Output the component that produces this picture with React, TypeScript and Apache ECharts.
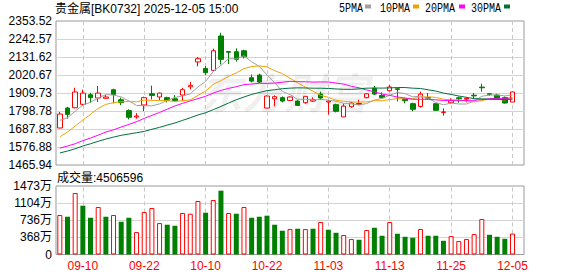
import React, { useEffect, useRef } from 'react';
import * as echarts from 'echarts';

const dates = [
  '09-05', '09-08', '09-09', '09-10', '09-11', '09-12', '09-15', '09-16', '09-17', '09-18',
  '09-19', '09-22', '09-23', '09-24', '09-25', '09-26', '09-29', '09-30', '10-09', '10-10',
  '10-13', '10-14', '10-15', '10-16', '10-17', '10-20', '10-21', '10-22', '10-23', '10-24',
  '10-27', '10-28', '10-29', '10-30', '10-31', '11-03', '11-04', '11-05', '11-06', '11-07',
  '11-10', '11-11', '11-12', '11-13', '11-14', '11-17', '11-18', '11-19', '11-20', '11-21',
  '11-24', '11-25', '11-26', '11-27', '11-28', '12-01', '12-02', '12-03', '12-04', '12-05',
];

const opens = [
  1694, 1817, 1819, 1840, 1899, 1879, 1877, 1930, 1868, 1801,
  1762, 1836, 1905, 1885, 1881, 1874, 1897, 1948, 2101, 2061,
  2049, 2261, 2165, 2164, 2170, 2004, 2020, 1817, 1874, 1881,
  1864, 1860, 1850, 1860, 1903, 1854, 1838, 1762, 1825, 1840,
  1881, 1938, 1895, 1924, 1936, 1872, 1844, 1827, 1882, 1844,
  1790, 1850, 1880, 1872, 1896, 1946, 1905, 1897, 1881, 1854,
];
const closes = [
  1780, 1778, 1916, 1909, 1881, 1909, 1885, 1901, 1850, 1760,
  1768, 1881, 1895, 1909, 1864, 1862, 1930, 1957, 2121, 2035,
  2170, 2117, 2161, 2117, 2133, 1983, 1977, 1891, 1887, 1860,
  1885, 1833, 1889, 1868, 1879, 1860, 1797, 1829, 1848, 1845,
  1905, 1903, 1881, 1947, 1932, 1862, 1809, 1903, 1878, 1803,
  1793, 1862, 1874, 1877, 1892, 1942, 1901, 1877, 1848, 1916,
];
const lows = [
  1692, 1752, 1815, 1831, 1850, 1854, 1875, 1846, 1835, 1747,
  1751, 1798, 1870, 1864, 1852, 1860, 1860, 1932, 2074, 2020,
  2045, 2086, 2088, 2103, 2123, 1975, 1971, 1817, 1827, 1852,
  1860, 1832, 1844, 1854, 1868, 1778, 1790, 1761, 1819, 1835,
  1877, 1897, 1877, 1920, 1858, 1846, 1797, 1819, 1868, 1800,
  1770, 1844, 1850, 1852, 1877, 1918, 1893, 1868, 1844, 1854,
];
const highs = [
  1793, 1825, 1942, 1930, 1911, 1953, 1897, 1936, 1881, 1809,
  1786, 1887, 1955, 1912, 1887, 1897, 1942, 1977, 2131, 2076,
  2183, 2281, 2168, 2185, 2176, 2024, 2029, 1895, 1895, 1889,
  1889, 1866, 1890, 1883, 1918, 1864, 1844, 1844, 1854, 1868,
  1910, 1953, 1914, 1959, 1940, 1881, 1850, 1918, 1910, 1845,
  1815, 1877, 1887, 1885, 1910, 1967, 1910, 1905, 1889, 1916,
];
// volume in 万
const volumes = [
  849, 812, 1322, 1049, 790, 1021, 812, 849, 704, 790,
  482, 913, 999, 676, 640, 618, 892, 877, 1150, 898,
  1172, 1372, 892, 877, 1021, 790, 812, 834, 640, 511,
  547, 554, 547, 554, 698, 532, 467, 418, 332, 317,
  526, 575, 403, 698, 446, 381, 360, 547, 403, 403,
  295, 396, 289, 332, 439, 763, 424, 381, 338, 450.6596,
];

const ma5 = [
  1741, 1757, 1798, 1835, 1852.8, 1878.6, 1900, 1897, 1885.2, 1861,
  1832.8, 1832, 1830.8, 1842.6, 1863.4, 1882.2, 1892, 1904.4, 1946.8, 1981,
  2042.6, 2080, 2120.8, 2120, 2139.6, 2102.2, 2074.2, 2020.2, 1974.2, 1919.6,
  1900, 1871.2, 1870.8, 1867, 1870.8, 1865.8, 1858.6, 1846.6, 1842.6, 1835.8,
  1844.8, 1866, 1876.4, 1896.2, 1913.6, 1905, 1886.2, 1890.6, 1876.8, 1851,
  1837.2, 1847.8, 1842, 1841.8, 1859.6, 1889.4, 1897.2, 1897.8, 1892, 1896.8,
];
const ma10 = [
  1640, 1669, 1706, 1743, 1778, 1815, 1840, 1850, 1856, 1856.9,
  1855.7, 1866, 1863.9, 1863.9, 1862.2, 1857.5, 1862, 1867.6, 1894.7, 1922.2,
  1962.4, 1986, 2012.6, 2033.4, 2060.3, 2072.4, 2077.1, 2070.5, 2047.1, 2029.6,
  2001.1, 1972.7, 1945.5, 1920.6, 1895.2, 1882.9, 1864.9, 1858.7, 1854.8, 1853.3,
  1855.3, 1862.3, 1861.5, 1869.4, 1874.7, 1874.9, 1876.1, 1883.5, 1886.5, 1882.3,
  1871.1, 1867, 1866.3, 1859.3, 1855.3, 1863.3, 1872.5, 1869.9, 1866.9, 1878.2,
];
const ma20 = [
  1570, 1583, 1597, 1616, 1632, 1650, 1669, 1683, 1700, 1716,
  1733, 1753, 1772, 1790, 1810, 1830, 1846, 1861, 1875, 1889.6,
  1909.1, 1926, 1938.3, 1948.7, 1961.3, 1965, 1969.6, 1969, 1970.9, 1975.9,
  1981.8, 1979.4, 1979.1, 1977, 1977.8, 1977.7, 1971, 1964.6, 1951, 1941.5,
  1928.2, 1917.5, 1903.5, 1895, 1885, 1878.9, 1870.5, 1871.1, 1870.7, 1867.8,
  1863.2, 1864.7, 1863.9, 1864.4, 1865, 1869.1, 1874.3, 1876.7, 1876.7, 1880.3,
];
const ma30 = [
  1540, 1552, 1566, 1583, 1597, 1612, 1626, 1638, 1649, 1657,
  1665, 1673, 1686, 1698, 1712, 1725, 1741, 1757, 1774, 1788,
  1807, 1827, 1848, 1868, 1885, 1901, 1913, 1924, 1930, 1936.2,
  1939.7, 1941.6, 1940.7, 1939.3, 1939.2, 1937.6, 1934.7, 1932.3, 1932.2, 1935,
  1939.6, 1940.3, 1939.9, 1941.1, 1943.4, 1943.4, 1939.4, 1937.6, 1929.5, 1921.7,
  1909.2, 1900.7, 1891.1, 1883.1, 1875.1, 1873.7, 1871.2, 1870.7, 1869.4, 1871.3,
];

const tickDates = ['09-10', '09-22', '10-10', '10-22', '11-03', '11-13', '11-25', '12-05'];
const priceMin = 1465.94;
const priceMax = 2353.52;
const volMax = 1473;
const titleText = '贵金属[BK0732] 2025-12-05 15:00';
const maNames = ['5PMA', '10PMA', '20PMA', '30PMA'];
const maSeries = [ma5, ma10, ma20, ma30];

const UP = '#ff0000';
const DOWN = '#008000';
const MA_COLORS = ['#a0a0a0', '#f0a300', '#ff00ff', '#00703c'];
const FONT = '"Liberation Sans", "Noto Sans CJK SC", sans-serif';

export default function App() {
  const ref = useRef<HTMLDivElement>(null);

  useEffect(() => {
    const chart = echarts.init(ref.current!, null, { renderer: 'svg' });
    const cats = [...dates, ''];
    const gridLeft = 56;
    const gridWidth = 468;

    const vLine = {
      silent: true,
      symbol: ['none', 'none'],
      z: 1,
      label: { show: false },
      emphasis: { disabled: true },
      lineStyle: { color: '#c8c8c8', type: [4, 3], width: 1 },
      data: tickDates.map((d) => ({ xAxis: d })),
    };

    const legendTextX = [339, 380, 425, 471];
    const legendRectX = [365, 413, 459, 504];
    const graphic: any[] = [
      {
        type: 'text', x: 200, y: 90, z: 1, silent: true,
        style: { text: '东方财富', font: 'italic bold 42px "Noto Sans CJK SC"', fill: 'rgba(0,0,0,0.07)', verticalAlign: 'middle' },
      },
      {
        type: 'text', x: 55, y: 9,
        style: { text: titleText, font: `12px ${FONT}`, fill: '#000', verticalAlign: 'middle' },
      },
      {
        type: 'text', x: 57, y: 177.5,
        style: { text: `成交量:${Math.round(volumes[volumes.length - 1] * 10000)}`, font: `12px ${FONT}`, fill: '#000', verticalAlign: 'middle' },
      },
    ];
    maNames.forEach((n, i) => {
      graphic.push({
        type: 'text', x: legendTextX[i], y: 9, scaleX: 0.833,
        style: { text: n, font: '12px "Liberation Mono"', fill: '#000', verticalAlign: 'middle' },
      });
      graphic.push({
        type: 'rect', x: legendRectX[i], y: 4.5, shape: { width: 6, height: 4 },
        style: { fill: MA_COLORS[i] },
      });
    });

    const option: any = {
      animation: false,
      backgroundColor: '#fff',
      grid: [
        { left: gridLeft, top: 21, width: gridWidth, height: 144, show: true, borderColor: '#999', borderWidth: 1, backgroundColor: 'transparent' },
        { left: gridLeft, top: 186, width: gridWidth, height: 68.5, show: true, borderColor: '#999', borderWidth: 1, backgroundColor: 'transparent' },
      ],
      xAxis: [
        {
          type: 'category', gridIndex: 0, data: cats, boundaryGap: true,
          axisLine: { show: false }, axisTick: { show: false }, axisLabel: { show: false }, splitLine: { show: false },
        },
        {
          type: 'category', gridIndex: 1, data: cats, boundaryGap: true,
          axisLine: { show: false }, axisTick: { show: false }, splitLine: { show: false },
          axisLabel: {
            interval: (_i: number, v: string) => tickDates.includes(v),
            color: UP, fontSize: 12, fontFamily: FONT, margin: 5,
          },
        },
      ],
      yAxis: [
        {
          type: 'value', gridIndex: 0, min: priceMin, max: priceMax, interval: (priceMax - priceMin) / 8,
          axisLine: { show: false }, axisTick: { show: false },
          axisLabel: {
            color: '#000', fontSize: 12, fontFamily: FONT, margin: 4,
            formatter: (v: number) => (Math.floor(v * 100 + 1e-4) / 100).toFixed(2),
          },
          splitLine: { show: true, showMinLine: false, showMaxLine: false, lineStyle: { color: '#d4d4d4', width: 1 } },
        },
        {
          type: 'value', gridIndex: 1, min: 0, max: volMax, interval: volMax / 4,
          axisLine: { show: false }, axisTick: { show: false },
          axisLabel: {
            color: '#000', fontSize: 12, fontFamily: FONT, margin: 4,
            formatter: (v: number) => (v === 0 ? '0' : `${Math.floor(v + 1e-6)}万`),
          },
          splitLine: { show: true, showMinLine: false, showMaxLine: false, lineStyle: { color: '#d4d4d4', width: 1 } },
        },
      ],
      series: [
        {
          type: 'candlestick', name: 'K', xAxisIndex: 0, yAxisIndex: 0, barWidth: 5,
          data: dates.map((_, i) => [opens[i], closes[i], lows[i], highs[i]]),
          itemStyle: { color: '#ffffff', color0: DOWN, borderColor: UP, borderColor0: DOWN, borderWidth: 1 },
          markLine: vLine,
        },
        ...maSeries.map((arr, i) => ({
          type: 'line', name: maNames[i], xAxisIndex: 0, yAxisIndex: 0,
          data: arr, showSymbol: false, symbol: 'none', smooth: false,
          lineStyle: { color: MA_COLORS[i], width: 1 },
        })),
        {
          type: 'bar', name: '成交量', xAxisIndex: 1, yAxisIndex: 1, barWidth: 5,
          data: volumes.map((v, i) => {
            const up = i === 0 || closes[i] >= closes[i - 1];
            return {
              value: v,
              itemStyle: up
                ? { color: '#ffffff', borderColor: UP, borderWidth: 1 }
                : { color: DOWN, borderColor: DOWN, borderWidth: 0 },
            };
          }),
          markLine: vLine,
        },
      ],
      graphic,
    };
    chart.setOption(option);
    return () => chart.dispose();
  }, []);

  return <div ref={ref} style={{ position: 'fixed', left: 0, top: 0, width: 578, height: 276 }} />;
}
